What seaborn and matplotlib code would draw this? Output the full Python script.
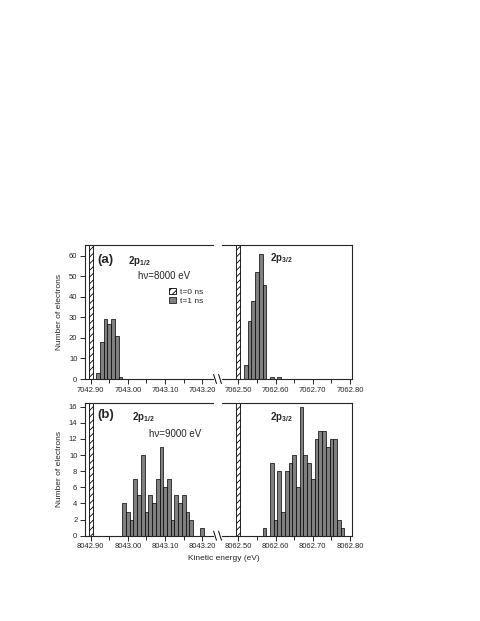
import seaborn as sns
import matplotlib.pyplot as plt
from matplotlib.patches import Patch
from matplotlib.ticker import MultipleLocator, FormatStrFormatter

# (a) hv = 8000 eV, t = 1 ns histograms (bin centres in eV, counts)
a_low_e = [7042.92, 7042.93, 7042.94, 7042.95, 7042.96, 7042.97, 7042.98]
a_low_n = [3, 18, 29, 27, 29, 21, 1]
a_high_e = [7062.52, 7062.53, 7062.54, 7062.55, 7062.56, 7062.57, 7062.59, 7062.61]
a_high_n = [7, 28, 38, 52, 61, 46, 1, 1]

# (b) hv = 9000 eV
b_low_e = [8042.99, 8043.00, 8043.01, 8043.02, 8043.03, 8043.04, 8043.05,
           8043.06, 8043.07, 8043.08, 8043.09, 8043.10, 8043.11, 8043.12,
           8043.13, 8043.14, 8043.15, 8043.16, 8043.17, 8043.20]
b_low_n = [4, 3, 2, 7, 5, 10, 3, 5, 4, 7, 11, 6, 7, 2, 5, 4, 5, 3, 2, 1]
b_high_e = [8062.57, 8062.59, 8062.60, 8062.61, 8062.62, 8062.63, 8062.64,
            8062.65, 8062.66, 8062.67, 8062.68, 8062.69, 8062.70, 8062.71,
            8062.72, 8062.73, 8062.74, 8062.75, 8062.76, 8062.77, 8062.78]
b_high_n = [1, 9, 2, 8, 3, 8, 9, 10, 6, 16, 10, 9, 7, 12, 13, 13, 11, 12, 12, 2, 1]

# t = 0 ns: every electron sits at the initial energy
a_low_t0, a_high_t0 = 7042.90, 7062.50
b_low_t0, b_high_t0 = 8042.90, 8062.50

a_low_ticks = [7042.90, 7043.00, 7043.10, 7043.20]
a_high_ticks = [7062.50, 7062.60, 7062.70, 7062.80]
b_low_ticks = [8042.90, 8043.00, 8043.10, 8043.20]
b_high_ticks = [8062.50, 8062.60, 8062.70, 8062.80]

sns.set_style("ticks")
plt.rcParams['font.family'] = ['Liberation Sans', 'DejaVu Sans']
plt.rcParams['mathtext.fontset'] = 'custom'
plt.rcParams['mathtext.rm'] = 'Liberation Sans'
plt.rcParams['mathtext.bf'] = 'Liberation Sans:bold'
plt.rcParams['hatch.linewidth'] = 0.6
plt.rcParams['axes.linewidth'] = 0.8

W, H = 480, 621
fig = plt.figure(figsize=(4.8, 6.21), dpi=100)


def box(x0, x1, ytop, ybot):
    return [x0 / W, 1 - ybot / H, (x1 - x0) / W, (ybot - ytop) / H]


def panel(ax, energies, counts, t0, ticks, xlim, ylim, yticks, side):
    sns.histplot(x=[t0], weights=[sum(counts)], binwidth=0.01,
                 binrange=(t0 - 0.005, t0 + 0.005), facecolor='white',
                 edgecolor='black', linewidth=0.6, hatch='/////', alpha=1, ax=ax)
    sns.histplot(x=energies, weights=counts, binwidth=0.01,
                 binrange=(energies[0] - 0.005, energies[-1] + 0.005),
                 facecolor='#808080', edgecolor='black', linewidth=0.5,
                 alpha=1, ax=ax)
    ax.set_xlim(xlim)
    ax.set_ylim(ylim)
    ax.set_xticks(ticks)
    ax.xaxis.set_major_formatter(FormatStrFormatter('%.2f'))
    ax.xaxis.set_minor_locator(MultipleLocator(0.05))
    ax.set_xlabel('')
    ax.set_ylabel('')
    ax.tick_params(direction='out', length=3.5, width=0.7, labelsize=5.5, pad=2)
    ax.tick_params(which='minor', direction='out', length=3, width=0.7)
    if side == 'left':
        ax.spines['right'].set_visible(False)
        ax.set_yticks(yticks)
        ax.set_ylabel('Number of electrons', fontsize=6)
        ax.yaxis.set_label_coords(-0.175, 0.5)
        # axis break marks
        d = dict(transform=ax.transAxes, color='black', lw=0.7, clip_on=False)
        for xb in (1.016, 1.055):
            ax.plot([xb - 0.011, xb + 0.011], [0.034, -0.034], **d)
    else:
        ax.spines['left'].set_visible(False)
        ax.tick_params(axis='y', left=False, labelleft=False)


ax1 = fig.add_axes(box(85, 213, 245.5, 379))
ax2 = fig.add_axes(box(222, 352, 245.5, 379))
ax3 = fig.add_axes(box(85, 213, 402.7, 535.7))
ax4 = fig.add_axes(box(222, 352, 402.7, 535.7))

panel(ax1, a_low_e, a_low_n, a_low_t0, a_low_ticks, (7042.8847, 7043.2288),
      (0, 65), range(0, 61, 10), 'left')
panel(ax2, a_high_e, a_high_n, a_high_t0, a_high_ticks, (7062.4562, 7062.8054),
      (0, 65), None, 'right')
panel(ax3, b_low_e, b_low_n, b_low_t0, b_low_ticks, (8042.8847, 8043.2288),
      (0, 16.5), range(0, 17, 2), 'left')
panel(ax4, b_high_e, b_high_n, b_high_t0, b_high_ticks, (8062.4562, 8062.8054),
      (0, 16.5), None, 'right')

sub12 = r'$\mathbf{2p_{1/2}}$'
sub32 = r'$\mathbf{2p_{3/2}}$'
ax1.text(0.094, 0.89, '(a)', transform=ax1.transAxes, fontsize=9.5,
         fontweight='bold', va='center')
ax1.text(0.336, 0.885, sub12, transform=ax1.transAxes, fontsize=7, va='center')
ax1.text(0.414, 0.768, 'h\u03bd=8000 eV', transform=ax1.transAxes, fontsize=7,
         va='center')
ax2.text(0.369, 0.906, sub32, transform=ax2.transAxes, fontsize=7, va='center')

ax3.text(0.094, 0.908, '(b)', transform=ax3.transAxes, fontsize=9.5,
         fontweight='bold', va='center')
ax3.text(0.365, 0.896, sub12, transform=ax3.transAxes, fontsize=7, va='center')
ax3.text(0.5, 0.768, 'h\u03bd=9000 eV', transform=ax3.transAxes, fontsize=7,
         va='center')
ax4.text(0.369, 0.895, sub32, transform=ax4.transAxes, fontsize=7, va='center')

handles = [Patch(facecolor='white', edgecolor='black', hatch='/////', lw=0.6,
                 label='t=0 ns'),
           Patch(facecolor='#808080', edgecolor='black', lw=0.5, label='t=1 ns')]
ax1.legend(handles=handles, loc='upper left', bbox_to_anchor=(0.655, 0.68),
           frameon=False, fontsize=6, handlelength=0.8, handleheight=0.6,
           handletextpad=0.5, labelspacing=0.2, borderpad=0, borderaxespad=0)

fig.text(224 / W, 1 - 558 / H, 'Kinetic energy (eV)', fontsize=6,
         ha='center', va='center')

fig.savefig('out.png', dpi=100)
